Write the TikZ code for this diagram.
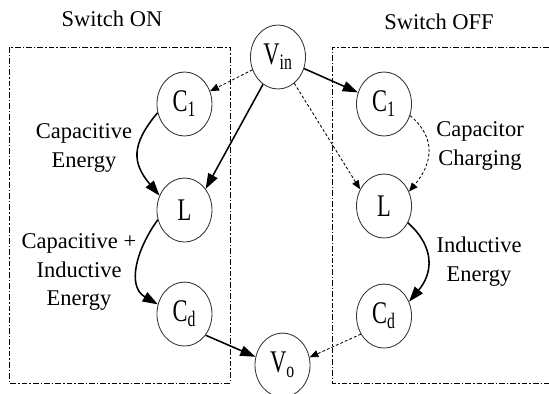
\documentclass[tikz,border=0pt]{standalone}
\usepackage{fontspec}
\setmainfont{Liberation Serif}
\usetikzlibrary{positioning, shapes.geometric, arrows.meta}
\newcommand{\vstretch}[1]{\scalebox{1}[1.4]{#1}}

\begin{document}
\begin{tikzpicture}[
      x=0.025cm, y=0.025cm,
      node distance=1.0cm, on grid,
      state/.style={ellipse, draw=black!80, line width=0.6pt, inner sep=0pt,
        minimum width=1.375cm, minimum height=1.6cm, font=\fontsize{16}{19}\selectfont},
      note/.style={align=center, font=\fontsize{16}{20.6}\selectfont},
      title/.style={font=\fontsize{16}{19}\selectfont},
      frame/.style={line width=0.7pt, dash pattern=on 4pt off 1.5pt on 1pt off 1.5pt},
      flow/.style={-{Triangle[length=3.8mm, width=2.6mm]}, line width=1.1pt},
      idle/.style={-{Triangle[length=2.2mm, width=1.8mm]}, line width=0.6pt,
        dash pattern=on 2pt off 1.5pt}
    ]
    \useasboundingbox (0,0) rectangle (549,394);

    % switch frames
    \draw[frame] (9,347) rectangle (230,11);
    \draw[frame] (560,347) -| (332,11) -- (560,11);
    \node[title] (swon) at (112,375) {Switch ON};
    \node[title] (swoff) at (439,372) {Switch OFF};

    \node[state] (vin) at (278,337) {\vstretch{V\textsubscript{in}}};
    \node[state, below left=1.175cm and 2.3375cm of vin] (c1on) {\vstretch{C\textsubscript{1}}};
    \node[state, below right=1.175cm and 2.65cm of vin] (c1off) {\vstretch{C\textsubscript{1}}};
    \node[state, below=2.65cm of c1on] (lon) {\vstretch{L}};
    \node[state, below=2.55cm of c1off] (loff) {\vstretch{L}};
    \node[state, below=2.6cm of lon] (cdon) {\vstretch{C\textsubscript{d}}};
    \node[state, below=2.75cm of loff] (cdoff) {\vstretch{C\textsubscript{d}}};
    \node[state, below right=1.275cm and 2.45cm of cdon] (vo) {\vstretch{V\textsubscript{o}}};

    \node[note] (capen) at (84,246) {Capacitive\\Energy};
    \node[note] (capind) at (79,122) {Capacitive +\\Inductive\\Energy};
    \node[note] (capch) at (480,248) {Capacitor\\Charging};
    \node[note] (inden) at (479,132) {Inductive\\Energy};

    % switch on
    \draw[idle] (vin) -- (c1on);
    \draw[flow] (vin) -- (lon.45);
    \draw[flow] (c1on.198) to[out=230, in=130, looseness=1.3] (lon.150);
    \draw[flow] (lon.200) to[out=234, in=150, looseness=1.1] (cdon.160);
    \draw[flow] (cdon.-45) -- (vo.163);
    % switch off
    \draw[flow] (vin) -- (c1off);
    \draw[idle] (vin) -- (loff.145);
    \draw[idle] (c1off.-24) to[out=-40, in=50, looseness=1.2] (loff.30);
    \draw[flow] (loff.-35) to[out=-42, in=50, looseness=1.2] (cdoff.30);
    \draw[idle] (cdoff.218) -- (vo.16);
  \end{tikzpicture}
\end{document}
